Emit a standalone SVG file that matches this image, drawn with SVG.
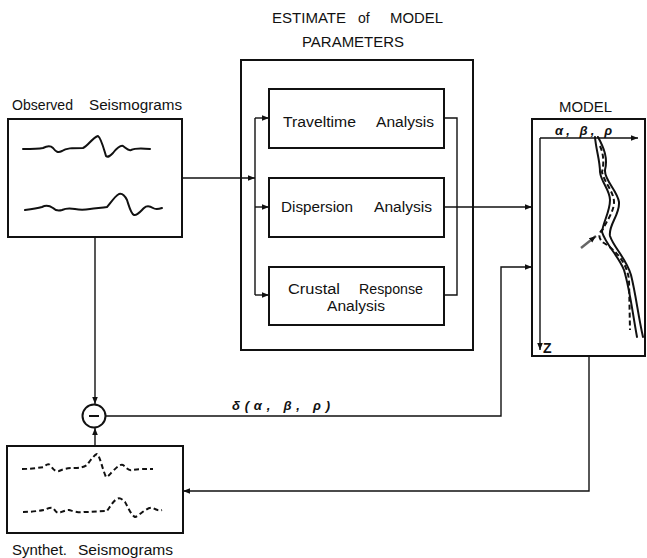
<svg xmlns="http://www.w3.org/2000/svg" width="647" height="558" viewBox="0 0 647 558">
<style>
.box{fill:none;stroke:#111;stroke-width:2}
.ln{fill:none;stroke:#111;stroke-width:1.4}
.wave{fill:none;stroke:#111;stroke-width:2;stroke-linecap:round;stroke-linejoin:round}
.dash{fill:none;stroke:#111;stroke-width:2;stroke-dasharray:5,3}
.t{font-family:"Liberation Sans",Arial,sans-serif;font-size:14px;fill:#111}
.h{font-family:"Liberation Sans",Arial,sans-serif;font-size:13px;fill:#111;font-style:italic;font-weight:bold}
</style>
<defs>
<marker id="ar" viewBox="0 0 10 10" refX="10" refY="5" markerWidth="7" markerHeight="7" orient="auto" markerUnits="userSpaceOnUse">
<path d="M0,1 L10,5 L0,9 z" fill="#111"/>
</marker>
</defs>
<rect width="647" height="558" fill="#fff"/>

<g id="observed">
<rect class="box" x="8" y="119" width="174" height="118"/>
<text class="t" x="12" y="110" textLength="61" lengthAdjust="spacingAndGlyphs">Observed</text>
<text class="t" x="89" y="110" textLength="93" lengthAdjust="spacingAndGlyphs">Seismograms</text>
<path class="wave" d="M23,149 C32,149 38,149 43,148 C47,146 50,145 53,148 C56,152 58,153 62,151 C66,148 72,148 83,148 C88,146 92,138 98,136 C101,138 103,146 106,156 C108,158 110,156 113,153 C117,148 120,145 123,146 C126,148 128,151 131,150 C135,148 140,148 150,149"/>
<path class="wave" d="M25,210 C32,209 38,208 42,207 C46,205 50,206 53,208 C56,211 59,211 62,210 C66,208 70,208 75,209 C80,210 84,210 90,209 C96,208 102,208 107,207 C110,204 114,197 119,194 C122,193 125,196 127,200 C129,206 131,214 134,215 C137,216 140,212 144,208 C147,205 150,206 153,208 C156,210 159,209 162,208"/>
</g>

<g id="estimate">
<rect class="box" x="241" y="60" width="232" height="290"/>
<text class="t" x="272" y="23" textLength="74" lengthAdjust="spacingAndGlyphs">ESTIMATE</text>
<text class="t" x="358" y="23">of</text>
<text class="t" x="390" y="23" textLength="53" lengthAdjust="spacingAndGlyphs">MODEL</text>
<text class="t" x="302" y="47" textLength="102" lengthAdjust="spacingAndGlyphs">PARAMETERS</text>
</g>

<g id="traveltime">
<rect class="box" x="269" y="89" width="175" height="59"/>
<text class="t" x="283" y="127" textLength="73" lengthAdjust="spacingAndGlyphs">Traveltime</text>
<text class="t" x="376" y="127" textLength="58" lengthAdjust="spacingAndGlyphs">Analysis</text>
</g>

<g id="dispersion">
<rect class="box" x="269" y="178" width="175" height="59"/>
<text class="t" x="281" y="212" textLength="72" lengthAdjust="spacingAndGlyphs">Dispersion</text>
<text class="t" x="374" y="212" textLength="58" lengthAdjust="spacingAndGlyphs">Analysis</text>
</g>

<g id="crustal">
<rect class="box" x="269" y="267" width="175" height="58"/>
<text class="t" x="288" y="294" textLength="52" lengthAdjust="spacingAndGlyphs">Crustal</text>
<text class="t" x="359" y="294" textLength="64" lengthAdjust="spacingAndGlyphs">Response</text>
<text class="t" x="327" y="311" textLength="58" lengthAdjust="spacingAndGlyphs">Analysis</text>
</g>

<g id="model">
<rect class="box" x="532" y="119" width="113" height="237"/>
<text class="t" x="559" y="112" textLength="53" lengthAdjust="spacingAndGlyphs">MODEL</text>
<line class="ln" x1="540" y1="138" x2="638" y2="138" marker-end="url(#ar)"/>
<line class="ln" x1="540" y1="138" x2="540" y2="350" marker-end="url(#ar)"/>
<text class="t" x="543" y="353" font-size="14" font-weight="bold">Z</text>
<text class="h" x="555" y="135" textLength="57" lengthAdjust="spacing">α, β, ρ</text>
<path class="wave" stroke-width="1.6" d="M595,137 C596,150 600,160 600,172 C601,182 610,190 610,200 C610,212 603,222 602,232 C606,245 618,255 624,270 C630,290 632,310 637,337"/>
<path class="wave" stroke-width="1.6" d="M598,137 C604,148 608,158 605,170 C604,180 617,190 619,202 C620,215 608,225 610,236 C614,248 626,258 631,275 C636,295 638,315 643,337"/>
<path class="dash" stroke-width="1.6" d="M600,146 C604,155 604,164 602,172 C604,182 614,192 614,202 C614,212 606,222 603,229 C598,233 598,239 604,243 C615,250 627,262 629,280 L630,330"/>
<line x1="581" y1="248" x2="596" y2="236" stroke="#666" stroke-width="2.5" marker-end="url(#ar)"/>
</g>

<g id="diff">
<circle cx="94" cy="416" r="11.5" fill="#fff" stroke="#111" stroke-width="2"/>
<line x1="89" y1="416" x2="99" y2="416" stroke="#111" stroke-width="2"/>
</g>

<g id="synthetic">
<rect class="box" x="7" y="446" width="176" height="87"/>
<text class="t" x="12" y="555" textLength="55" lengthAdjust="spacingAndGlyphs">Synthet.</text>
<text class="t" x="78" y="555" textLength="95" lengthAdjust="spacingAndGlyphs">Seismograms</text>
<path class="dash" d="M22,469 C30,469 38,468 44,467 C46,465 48,463 50,465 C53,469 55,472 59,471 C63,469 67,468 75,468 C80,468 84,467 87,465 C90,461 94,455 97,454 C100,456 102,468 106,477 C108,477 110,474 113,471 C117,467 120,464 123,465 C126,467 128,471 132,470 C138,469 145,469 153,469"/>
<path class="dash" d="M23,512 C30,512 38,511 44,510 C47,509 50,507 53,508 C55,510 56,513 59,513 C62,512 65,510 69,510 C73,511 78,513 84,512 C92,512 100,511 107,511 C110,507 113,501 117,499 C120,497 123,500 125,502 C128,507 131,515 135,517 C138,516 141,513 144,511 C147,509 150,507 153,508 C156,510 159,511 162,510"/>
</g>

<g id="connectors">
<line class="ln" x1="182" y1="178" x2="255" y2="178" marker-end="url(#ar)"/>
<line class="ln" x1="255" y1="118" x2="255" y2="295"/>
<line class="ln" x1="255" y1="118" x2="269" y2="118" marker-end="url(#ar)"/>
<line class="ln" x1="255" y1="207" x2="269" y2="207" marker-end="url(#ar)"/>
<line class="ln" x1="255" y1="295" x2="269" y2="295" marker-end="url(#ar)"/>
<polyline class="ln" points="444,118 457,118 457,295 444,295"/>
<line class="ln" x1="444" y1="207" x2="532" y2="207" marker-end="url(#ar)"/>
<polyline class="ln" points="106,416 501,416 501,267 532,267" marker-end="url(#ar)"/>
<line class="ln" x1="95" y1="237" x2="95" y2="404" marker-end="url(#ar)"/>
<line class="ln" x1="95" y1="446" x2="95" y2="428" marker-end="url(#ar)"/>
<polyline class="ln" points="589,356 589,491 183,491" marker-end="url(#ar)"/>
<text class="h" x="232" y="410" textLength="98" lengthAdjust="spacing">δ(α, β, ρ)</text>
</g>
</svg>
